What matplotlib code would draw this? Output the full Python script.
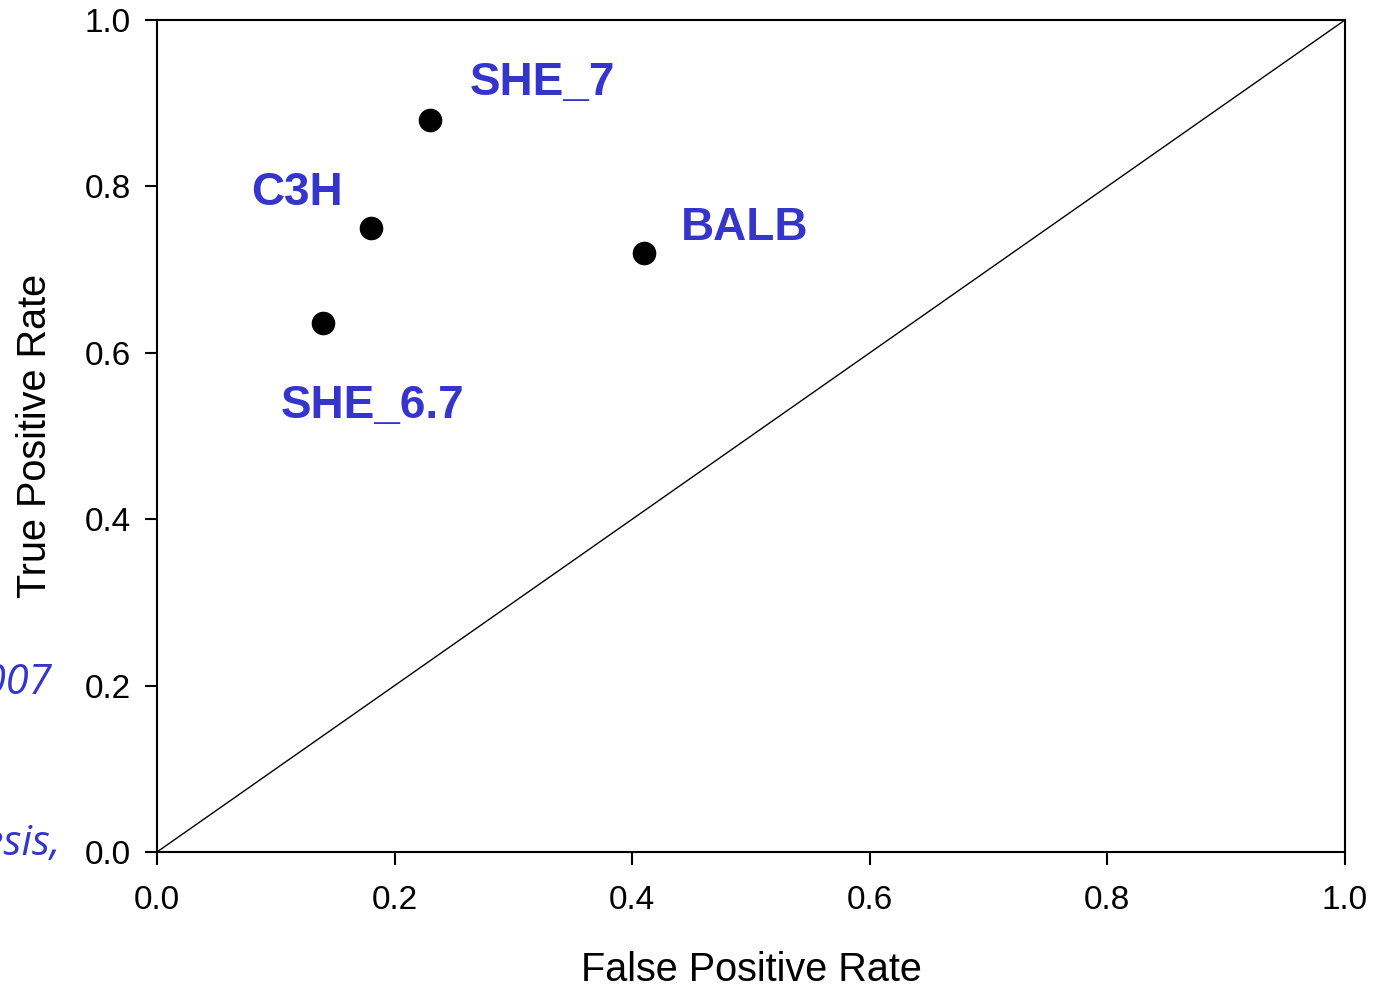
import matplotlib
matplotlib.use("Agg")
import matplotlib.pyplot as plt

# ROC points
strains = ["SHE_7", "C3H", "BALB", "SHE_6.7"]
fpr = [0.23, 0.18, 0.41, 0.14]
tpr = [0.88, 0.75, 0.72, 0.636]
# label offsets from each point (pixels)
label_offsets = [(40, 25), (-120, 23), (37, 13), (-43, -95)]

ticks = [0.0, 0.2, 0.4, 0.6, 0.8, 1.0]
blue = "#3535cc"

fig = plt.figure(figsize=(13.83, 9.86), dpi=100)
ax = fig.add_axes([0.1135, 0.1359, 0.8590, 0.8438])

ax.plot([0, 1], [0, 1], color="black", lw=1)
ax.plot(fpr, tpr, "o", color="black", ms=16, zorder=3)

for name, x, y, off in zip(strains, fpr, tpr, label_offsets):
    ax.annotate(name, (x, y), xytext=off, textcoords="offset pixels",
                ha="left", va="baseline", color=blue, fontsize=33,
                fontweight="bold", family="Liberation Sans")

ax.set_xlim(0, 1)
ax.set_ylim(0, 1)
ax.set_xticks(ticks)
ax.set_yticks(ticks)
ax.set_xticklabels([f"{t:.1f}" for t in ticks])
ax.set_yticklabels([f"{t:.1f}" for t in ticks])
ax.tick_params(direction="out", length=9, width=1.5, labelsize=24)
ax.tick_params(axis="x", pad=15)
ax.tick_params(axis="y", pad=10)
for lbl in ax.get_xticklabels() + ax.get_yticklabels():
    lbl.set_family("Liberation Sans")
for s in ax.spines.values():
    s.set_linewidth(1.5)

ax.set_xlabel("False Positive Rate", fontsize=28.5, family="Liberation Sans", labelpad=25)
ax.set_ylabel("True Positive Rate", fontsize=28.5, family="Liberation Sans", labelpad=22)

# clipped italic notes at left edge
fig.text(52 / 1383, 1 - 694 / 986, "2007", ha="right", va="baseline", color=blue,
         fontsize=30, style="italic", family="Open Sans")
fig.text(60 / 1383, 1 - 855 / 986, "thesis,", ha="right", va="baseline", color=blue,
         fontsize=30, style="italic", family="Open Sans")

fig.savefig("out.png", dpi=100)
